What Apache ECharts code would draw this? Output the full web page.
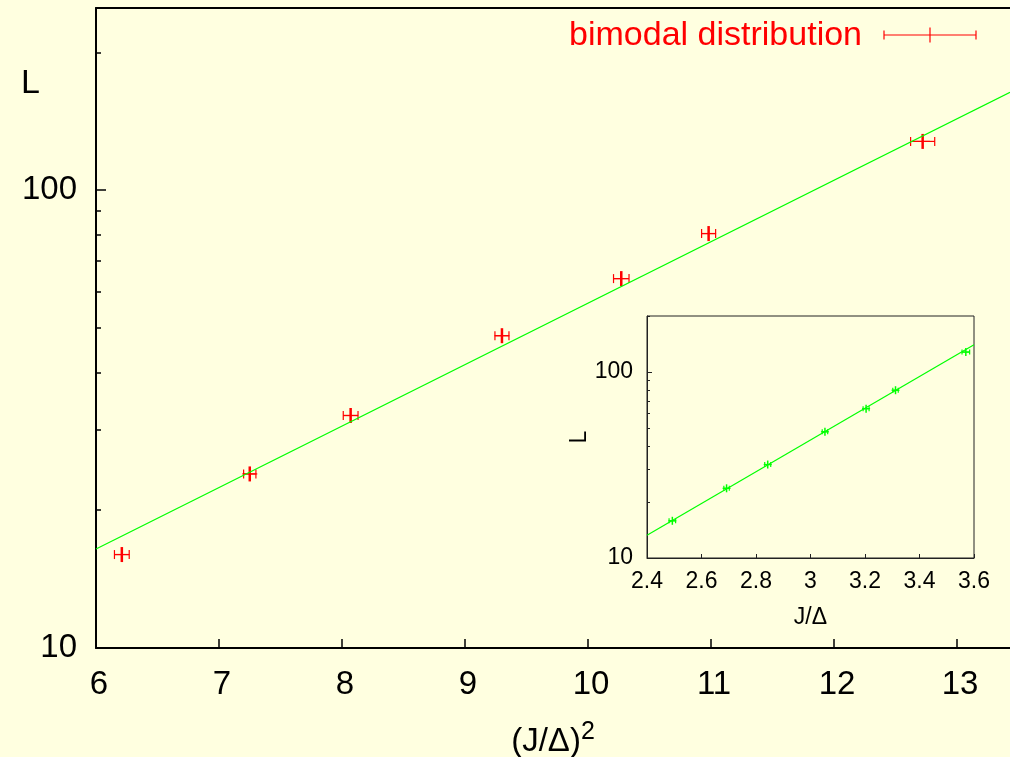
<!DOCTYPE html>
<html>
<head>
<meta charset="utf-8">
<script src="https://cdn.jsdelivr.net/npm/echarts@6/dist/echarts.min.js"></script>
<style>
  html, body { margin: 0; padding: 0; background: #ffffe0; }
  #container { width: 1010px; height: 757px; }
</style>
</head>
<body>
<div id="container"></div>
<script>
// main plot: L vs (J/Delta)^2, red points with x error bars
let mainX = [6.21, 7.25, 8.07, 9.30, 10.27, 10.98, 12.72];
let mainL = [16.0, 24.0, 32.2, 48.1, 64.1, 80.4, 127.8];
let mainXerr = [0.06, 0.05, 0.06, 0.057, 0.063, 0.057, 0.098];
let mainFitX = [6, 13.43];
let mainFitL = [16.46, 163.6];

// inset: L vs J/Delta, green
let insetX = [2.493, 2.692, 2.843, 3.053, 3.204, 3.312, 3.570];
let insetL = [15.85, 23.7, 31.8, 47.7, 63.5, 79.8, 128];
let insetXerr = [0.012, 0.010, 0.011, 0.010, 0.011, 0.010, 0.014];
let insetFitX = [2.4, 3.6];
let insetFitL = [13.27, 140];

let mainXTicks = [6, 7, 8, 9, 10, 11, 12, 13];
let logMajor = [10, 100];
let mainLogMinor = [20, 30, 40, 50, 60, 70, 80, 90, 200];
let insetLogMinor = [20, 30, 40, 50, 60, 70, 80, 90, 200];

const FONT = 'Liberation Sans';
const RED = '#ff0000';
const GREEN = '#00ff00';

function rows(xs, ys, es) {
    return xs.map((x, i) => [x, ys[i], es[i]]);
}

function errBars(color, capH, plusH, thick) {
    return function (params, api) {
        let x = api.value(0), y = api.value(1), dx = api.value(2);
        let c = api.coord([x, y]);
        let l = api.coord([x - dx, y]);
        let r = api.coord([x + dx, y]);
        let seg = (x1, y1, x2, y2, w) => ({
            type: 'line',
            shape: { x1: x1, y1: y1, x2: x2, y2: y2 },
            style: { stroke: color, lineWidth: w || 1 }
        });
        return {
            type: 'group',
            children: [
                seg(l[0], l[1], r[0], r[1], 1.2),
                seg(l[0], l[1] - capH, l[0], l[1] + capH, 1.2),
                seg(r[0], r[1] - capH, r[0], r[1] + capH, 1.2),
                seg(c[0], c[1] - plusH, c[0], c[1] + plusH, thick),
                seg(c[0] - plusH, c[1], c[0] + plusH, c[1], 1.2)
            ]
        };
    };
}

let dom = document.getElementById('container');
let chart = echarts.init(dom);

let axisBlack = { lineStyle: { color: '#000', width: 2 } };

chart.setOption({
    backgroundColor: '#ffffe0',
    animation: false,
    grid: [
        { left: 96, top: 8, right: 0, bottom: 109, outerBoundsMode: 'none' },
        { left: 647, top: 316, width: 327, height: 242, show: true,
          backgroundColor: '#ffffe0', borderColor: '#222', borderWidth: 1, outerBoundsMode: 'none' }
    ],
    xAxis: [
        {
            gridIndex: 0, type: 'value', min: 6, max: 13.43,
            axisLine: axisBlack,
            axisTick: { inside: true, length: 9, customValues: mainXTicks, lineStyle: { color: '#000', width: 1.5 } },
            axisLabel: { customValues: mainXTicks, fontSize: 33, fontFamily: FONT, color: '#000', margin: 20,
                         padding: [0, 0, 0, 6] },
            splitLine: { show: false },
            name: '(J/Δ){sup|2}',
            nameLocation: 'middle',
            nameGap: 72,
            nameTextStyle: {
                fontSize: 33, fontFamily: FONT, color: '#000',
                rich: { sup: { fontSize: 25, fontFamily: FONT, color: '#000', padding: [0, 0, 18, 0] } }
            }
        },
        {
            gridIndex: 0, type: 'value', min: 6, max: 13.43, position: 'top',
            axisLine: axisBlack, axisTick: { show: false }, axisLabel: { show: false }, splitLine: { show: false }
        },
        {
            gridIndex: 1, type: 'value', min: 2.4, max: 3.6, interval: 0.2,
            axisLine: { lineStyle: { color: '#222', width: 1 } },
            axisTick: { inside: true, length: 4, lineStyle: { color: '#222' } },
            axisLabel: { fontSize: 23, fontFamily: FONT, color: '#000', margin: 12 },
            splitLine: { show: false },
            name: 'J/Δ', nameLocation: 'middle', nameGap: 48,
            nameTextStyle: { fontSize: 23, fontFamily: FONT, color: '#000' }
        }
    ],
    yAxis: [
        {
            gridIndex: 0, type: 'log', logBase: 10, min: 10, max: 250, position: 'left',
            axisLine: axisBlack,
            axisTick: { inside: true, length: 10, customValues: logMajor, lineStyle: { color: '#000', width: 1.5 } },
            axisLabel: { customValues: logMajor, fontSize: 33, fontFamily: FONT, color: '#000', margin: 19 },
            splitLine: { show: false }
        },
        {
            gridIndex: 0, type: 'log', logBase: 10, min: 10, max: 250, position: 'left', offset: 0,
            axisLine: { show: false },
            axisTick: { inside: true, length: 5, customValues: mainLogMinor, lineStyle: { color: '#000', width: 1.5 } },
            axisLabel: { show: false },
            splitLine: { show: false }
        },
        {
            gridIndex: 1, type: 'log', logBase: 10, min: 10, max: 200, position: 'left',
            axisLine: { lineStyle: { color: '#222', width: 1 } },
            axisTick: { inside: true, length: 5, customValues: logMajor, lineStyle: { color: '#222' } },
            axisLabel: { customValues: logMajor, fontSize: 23, fontFamily: FONT, color: '#000', margin: 14 },
            splitLine: { show: false },
            name: 'L', nameLocation: 'middle', nameGap: 43, nameRotate: 90,
            nameTextStyle: { fontSize: 23, fontFamily: FONT, color: '#000' }
        },
        {
            gridIndex: 1, type: 'log', logBase: 10, min: 10, max: 200, position: 'left', offset: 0,
            axisLine: { show: false },
            axisTick: { inside: true, length: 3, customValues: insetLogMinor, lineStyle: { color: '#222' } },
            axisLabel: { show: false },
            splitLine: { show: false }
        }
    ],
    graphic: [
        { type: 'text', x: 21, y: 84,
          style: { text: 'L', font: '34px "Liberation Sans"', fill: '#000', verticalAlign: 'middle' } },
        { type: 'text', x: 862, y: 36,
          style: { text: 'bimodal distribution', font: '34px "Liberation Sans"', fill: RED,
                   align: 'right', verticalAlign: 'middle' } },
        { type: 'line', shape: { x1: 884, y1: 35, x2: 976, y2: 35 }, style: { stroke: RED, lineWidth: 1.2 } },
        { type: 'line', shape: { x1: 884, y1: 30.5, x2: 884, y2: 39.5 }, style: { stroke: RED, lineWidth: 1.2 } },
        { type: 'line', shape: { x1: 976, y1: 30.5, x2: 976, y2: 39.5 }, style: { stroke: RED, lineWidth: 1.2 } },
        { type: 'line', shape: { x1: 930, y1: 27.5, x2: 930, y2: 42.5 }, style: { stroke: RED, lineWidth: 1.2 } }
    ],
    series: [
        {
            name: 'fit', type: 'line', xAxisIndex: 0, yAxisIndex: 0,
            data: mainFitX.map((x, i) => [x, mainFitL[i]]),
            showSymbol: false, symbol: 'none',
            lineStyle: { color: GREEN, width: 1.2 }
        },
        {
            name: 'bimodal distribution', type: 'custom', xAxisIndex: 0, yAxisIndex: 0,
            data: rows(mainX, mainL, mainXerr),
            renderItem: errBars(RED, 4.5, 7.5, 2.5)
        },
        {
            name: 'inset fit', type: 'line', xAxisIndex: 2, yAxisIndex: 2,
            data: insetFitX.map((x, i) => [x, insetFitL[i]]),
            showSymbol: false, symbol: 'none',
            lineStyle: { color: GREEN, width: 1.2 }
        },
        {
            name: 'inset', type: 'custom', xAxisIndex: 2, yAxisIndex: 2,
            data: rows(insetX, insetL, insetXerr),
            renderItem: errBars(GREEN, 2.5, 4, 1.5)
        }
    ]
});
</script>
</body>
</html>
